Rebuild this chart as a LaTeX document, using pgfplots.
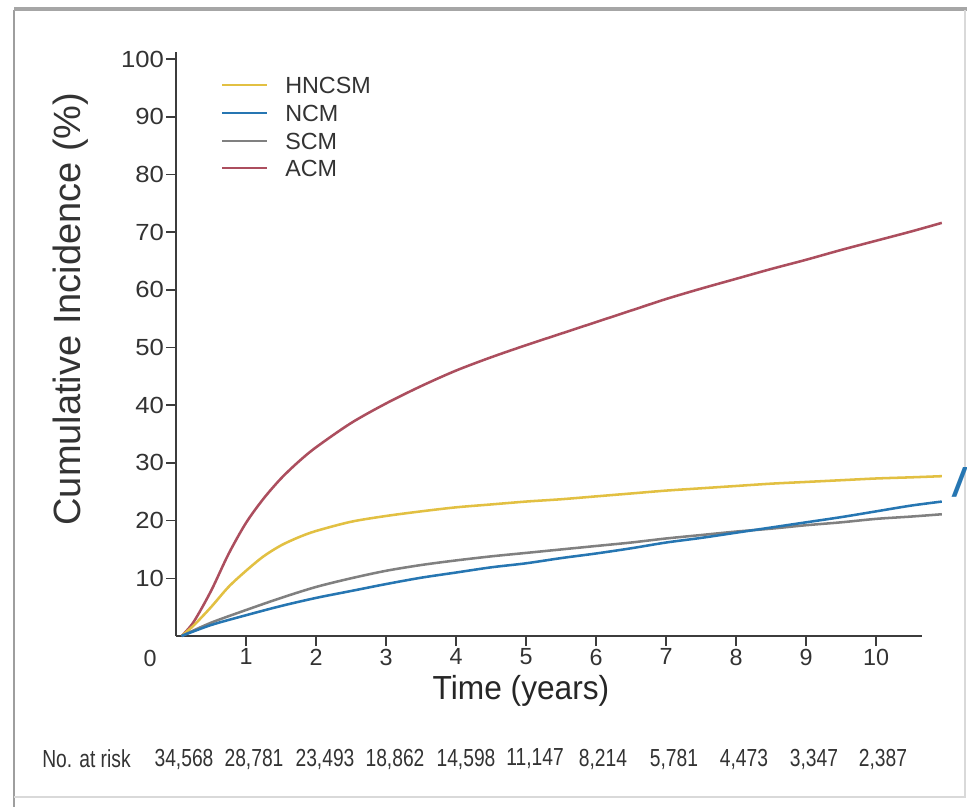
\documentclass[border=0pt]{standalone}
\usepackage{pgfplots}
\pgfplotsset{compat=1.18}
\usepackage{fontspec}
\setmainfont{Liberation Sans}
\newfontfamily\ytf{Liberation Sans}[FakeStretch=1.1]
\newfontfamily\cnd{Liberation Sans}[FakeStretch=0.78]
\newfontfamily\xlf{Liberation Sans}[FakeStretch=0.95]
\definecolor{hncsm}{RGB}{226,192,66}
\definecolor{ncm}{RGB}{38,118,178}
\definecolor{scm}{RGB}{128,128,128}
\definecolor{acm}{RGB}{172,78,94}
\definecolor{axc}{RGB}{60,60,60}
\begin{document}
\begin{tikzpicture}[x=0.75pt,y=-0.75pt]
\useasboundingbox (0,0) rectangle (967,807);
\fill[white] (0,0) rectangle (967,807);
% frame
\draw[line width=2.2pt, black!38] (14,10) -- (14,807);
\draw[line width=3pt, black!35] (14,9) -- (967,9);
\draw[line width=1pt, black!15] (965,10) -- (965,797) -- (14,797);
\begin{axis}[
  at={(132pt,-477pt)}, anchor=origin,
  x=52.5pt, y=4.3275pt,
  xmin=0, xmax=10.66, ymin=0, ymax=101.2,
  axis lines=left,
  axis line style={-, line width=1.4pt, draw=axc},
  clip=false,
  xtick={1,2,3,4,5,6,7,8,9,10},
  ytick={10,20,30,40,50,60,70,80,90,100},
  tick align=outside,
  major tick length=7.5pt,
  tick style={line width=1.2pt, draw=axc},
  /pgf/number format/assume math mode=true,
  xticklabel style={font=\fontsize{17.5}{20}\selectfont, text=black!80, yshift=1.5pt},
  yticklabel style={font=\ytf\fontsize{17.5}{20}\selectfont, text=black!80, xshift=2pt},
  every axis plot/.append style={line width=1.9pt, smooth, tension=0.5},
]
\addplot[acm] coordinates {(0.08,0) (0.25,2.4) (0.5,7.8) (0.75,14.2) (1,19.6) (1.25,23.8) (1.5,27.3) (1.75,30.2) (2,32.7) (2.5,36.9) (3,40.3) (3.5,43.3) (4,46) (4.5,48.3) (5,50.4) (5.5,52.4) (6,54.4) (6.5,56.4) (7,58.4) (7.5,60.2) (8,61.9) (8.5,63.6) (9,65.2) (9.5,66.9) (10,68.5) (10.5,70.1) (10.94,71.6)};
\addplot[hncsm] coordinates {(0.08,0) (0.25,1.8) (0.5,5) (0.75,8.5) (1,11.3) (1.25,13.8) (1.5,15.7) (1.75,17.1) (2,18.2) (2.5,19.8) (3,20.8) (3.5,21.6) (4,22.3) (4.5,22.8) (5,23.3) (5.5,23.7) (6,24.2) (6.5,24.7) (7,25.2) (7.5,25.6) (8,26) (8.5,26.4) (9,26.7) (9.5,27) (10,27.3) (10.5,27.5) (10.94,27.7)};
\addplot[scm] coordinates {(0.08,0) (0.5,2.3) (1,4.5) (1.5,6.6) (2,8.5) (2.5,10) (3,11.3) (3.5,12.3) (4,13.1) (4.5,13.8) (5,14.4) (5.5,15) (6,15.6) (6.5,16.2) (7,16.9) (7.5,17.5) (8,18.1) (8.5,18.6) (9,19.2) (9.5,19.7) (10,20.3) (10.5,20.7) (10.94,21.1)};
\addplot[ncm] coordinates {(0.08,0) (0.5,1.9) (1,3.6) (1.5,5.2) (2,6.6) (2.5,7.8) (3,9) (3.5,10.1) (4,11) (4.5,11.9) (5,12.6) (5.5,13.5) (6,14.3) (6.5,15.2) (7,16.2) (7.5,17) (8,17.9) (8.5,18.8) (9,19.7) (9.5,20.6) (10,21.6) (10.5,22.6) (10.94,23.3)};
\end{axis}
% origin label
\node[font=\fontsize{17.5}{20}\selectfont, text=black!80] at (150,658) {0};
% legend
\draw[line width=1.9pt, hncsm] (222,85) -- (267,85);
\draw[line width=1.9pt, ncm] (222,113) -- (267,113);
\draw[line width=1.9pt, scm] (222,141) -- (267,141);
\draw[line width=1.9pt, acm] (222,168) -- (267,168);
\begin{scope}[every node/.style={anchor=west, inner sep=0pt, font=\fontsize{17.5}{18}\selectfont, text=black!80}]
\node at (285,85) {HNCSM};
\node at (285,113) {NCM};
\node at (285,141) {SCM};
\node at (285,168) {ACM};
\end{scope}
% axis labels
\node[rotate=90, font=\fontsize{28.5}{30}\selectfont, text=black!80] at (71,309) {Cumulative Incidence (\%)};
\node[font=\xlf\fontsize{25}{27}\selectfont, text=black!85] at (521,691) {Time (years)};
% number at risk
\begin{scope}[every node/.style={font=\cnd\fontsize{18.5}{20}\selectfont, text=black!80, inner sep=0pt}]
\node[anchor=west] at (42,759) {No. at risk};
\node at (184,759) {34,568};
\node at (254,759) {28,781};
\node at (325,759) {23,493};
\node at (395,759) {18,862};
\node at (466,759) {14,598};
\node at (535,759) {11,147};
\node at (603,759) {8,214};
\node at (674,759) {5,781};
\node at (744,759) {4,473};
\node at (814,759) {3,347};
\node at (883,759) {2,387};
\end{scope}
% cut-off blue glyph at right edge
\node[font=\bfseries\itshape\fontsize{30}{30}\selectfont, text=ncm, anchor=west, inner sep=0pt] at (953,482) {/};
\end{tikzpicture}
\end{document}
